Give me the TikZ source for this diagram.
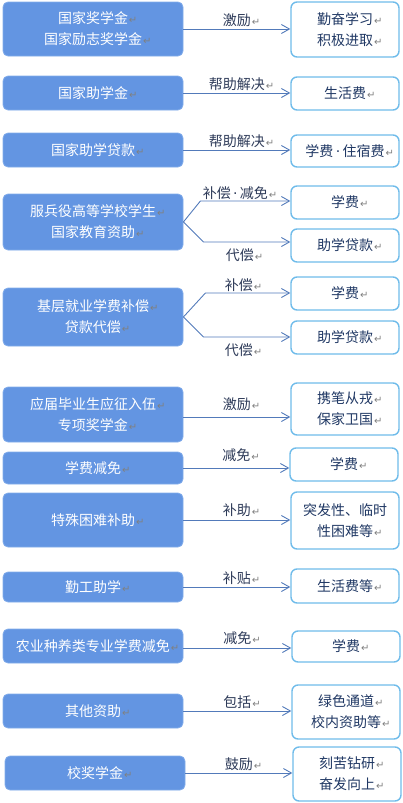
\documentclass[tikz,border=0pt]{standalone}
\usepackage{fontspec}
\setmainfont{Noto Sans CJK SC}
\newfontfamily\markfont{DejaVu Sans}
\usetikzlibrary{arrows.meta}
\definecolor{srcfill}{RGB}{99,149,226}
\definecolor{srcline}{RGB}{130,172,234}
\definecolor{dstline}{RGB}{112,188,234}
\definecolor{dsttext}{RGB}{32,56,100}
\definecolor{notetext}{RGB}{45,58,88}
\definecolor{arrowc}{RGB}{82,122,186}
\definecolor{markc}{RGB}{128,128,128}
\newcommand{\retmark}{\rlap{\kern1pt\textcolor{markc}{\markfont\fontsize{10}{10}\selectfont ↵}}}
\newcommand{\middot}{{\markfont\,·\,}}

\begin{document}
\begin{tikzpicture}[
  x=1pt, y=-1pt,
  box/.style={align=center, inner sep=0pt, font=\fontsize{14}{21}\selectfont},
  src/.style={box, rounded corners=5pt, fill=srcfill, draw=srcline,
              line width=0.8pt, text=white, minimum width=180pt},
  dst/.style={box, rounded corners=6pt, fill=white, draw=dstline,
              line width=1.4pt, text=dsttext, minimum width=108pt},
  arrow/.style={-{Straight Barb[length=8pt,width=9pt]}, draw=arrowc, line width=0.9pt},
  note/.style={font=\fontsize{14}{16}\selectfont, text=notetext, inner sep=0pt}
]
  \useasboundingbox (0,0) rectangle (403,803);

  \node[src, minimum height=54pt] (nat) at (93,29)
    {国家奖学金\retmark\\国家励志奖学金\retmark};
  \node[dst, minimum height=55pt] (study) at (345,29.5)
    {勤奋学习\retmark\\积极进取\retmark};
  \draw[arrow] (nat.east) -- (nat.east -| study.west)
    node[note, midway, above=2pt]{激励\retmark};

  \node[src, minimum height=34pt] (grant) at (93,93) {国家助学金\retmark};
  \node[dst, minimum height=33pt] (living) at (345,93.5) {生活费\retmark};
  \draw[arrow] (grant.east) -- (grant.east -| living.west)
    node[note, midway, above=2pt]{帮助解决\retmark};

  \node[src, minimum height=34pt] (loan) at (93,150) {国家助学贷款\retmark};
  \node[dst, minimum height=32pt] (lodging) at (345,151) {学费\middot 住宿费\retmark};
  \draw[arrow] (loan.east) -- (loan.east -| lodging.west)
    node[note, midway, above=2pt]{帮助解决\retmark};

  \node[src, minimum height=56pt] (army) at (93,222)
    {服兵役高等学校学生\retmark\\国家教育资助\retmark};
  \node[dst, minimum height=33pt] (armyfee) at (345,202.5) {学费\retmark};
  \node[dst, minimum height=33pt] (armyloan) at (345,245.5) {助学贷款\retmark};
  \draw[arrow] (army.east) -- ++(17,-21) coordinate (ka) -- (ka -| armyfee.west)
    node[note, midway, above=1pt, xshift=-10pt]{补偿\middot 减免\retmark};
  \draw[arrow] (army.east) -- ++(20,20) coordinate (kb) -- (kb -| armyloan.west)
    node[note, midway, below=6pt, xshift=-7pt]{代偿\retmark};

  \node[src, minimum height=58pt] (grass) at (93,317)
    {基层就业学费补偿\retmark\\贷款代偿\retmark};
  \node[dst, minimum height=33pt] (grassfee) at (345,293.5) {学费\retmark};
  \node[dst, minimum height=33pt] (grassloan) at (345,337.5) {助学贷款\retmark};
  \draw[arrow] (grass.east) -- ++(22,-24) coordinate (kc) -- (kc -| grassfee.west)
    node[note, midway, above=1pt, xshift=-9pt]{补偿\retmark};
  \draw[arrow] (grass.east) -- ++(20,20) coordinate (kd) -- (kd -| grassloan.west)
    node[note, midway, below=6pt, xshift=-8pt]{代偿\retmark};

  \node[src, minimum height=55pt] (enlist) at (93,414.5)
    {应届毕业生应征入伍\retmark\\专项奖学金\retmark};
  \node[dst, minimum height=52pt] (defend) at (345,409)
    {携笔从戎\retmark\\保家卫国\retmark};
  \draw[arrow] (enlist.east) ++(0,2.5) coordinate (ke) -- (ke -| defend.west)
    node[note, midway, above=6pt]{激励\retmark};

  \node[src, minimum height=32pt] (waive) at (93,468) {学费减免\retmark};
  \node[dst, minimum height=33pt] (waivefee) at (344,464.5) {学费\retmark};
  \draw[arrow] (waive.east) -- (waive.east -| waivefee.west)
    node[note, midway, above=6pt]{减免\retmark};

  \node[src, minimum height=54pt] (hardship) at (93,520) {特殊困难补助\retmark};
  \node[dst, minimum height=57pt] (sudden) at (345,520.5)
    {突发性、临时\\性困难等\retmark};
  \draw[arrow] (hardship.east) -- (hardship.east -| sudden.west)
    node[note, midway, above=3pt]{补助\retmark};

  \node[src, minimum height=30pt] (work) at (93,587) {勤工助学\retmark};
  \node[dst, minimum height=34pt] (livingetc) at (345,586) {生活费等\retmark};
  \draw[arrow] (work.east) -- (work.east -| livingetc.west)
    node[note, midway, above=2pt]{补贴\retmark};

  \node[src, minimum height=34pt] (farm) at (93,646) {农业种养类专业学费减免\retmark};
  \node[dst, minimum height=31pt] (farmfee) at (346,646.5) {学费\retmark};
  \draw[arrow] (farm.east) ++(0,2) coordinate (kf) -- (kf -| farmfee.west)
    node[note, midway, above=3pt]{减免\retmark};

  \node[src, minimum height=34pt] (other) at (93,711) {其他资助\retmark};
  \node[dst, minimum height=54pt] (channel) at (346,712)
    {绿色通道\retmark\\校内资助等\retmark};
  \draw[arrow] (other.east) -- (other.east -| channel.west)
    node[note, midway, above=2pt]{包括\retmark};

  \node[src, minimum height=34pt] (campus) at (95,773) {校奖学金\retmark};
  \node[dst, minimum height=54pt] (diligent) at (347,774)
    {刻苦钻研\retmark\\奋发向上\retmark};
  \draw[arrow] (campus.east) -- (campus.east -| diligent.west)
    node[note, midway, above=2pt]{鼓励\retmark};
\end{tikzpicture}
\end{document}
